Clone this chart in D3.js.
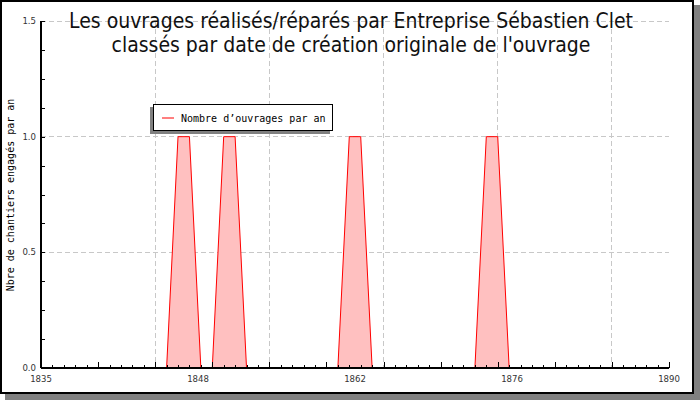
<!DOCTYPE html>
<html>
<head>
<meta charset="utf-8">
<script src="https://cdn.jsdelivr.net/npm/d3@7"></script>
<style>
  body { margin: 0; background: #fff; }
  svg { display: block; }
</style>
</head>
<body>
<svg id="chart" width="700" height="400"></svg>
<script>
// years where the series changes, and number of works for each
const annees = [1835, 1846, 1847, 1848, 1849, 1850, 1851, 1852, 1853, 1861, 1862, 1863, 1864, 1873, 1874, 1875, 1876, 1890];
const nbOuvrages = [0, 0, 1, 1, 0, 0, 1, 1, 0, 0, 1, 1, 0, 0, 1, 1, 0, 0];
const xTickLabels = ["1835", "1848", "1862", "1876", "1890"];
const yTickLabels = ["0.0", "0.5", "1.0", "1.5"];
const titre = ["Les ouvrages réalisés/réparés par Entreprise Sébastien Clet",
               "classés par date de création originale de l'ouvrage"];
const legende = "Nombre d’ouvrages par an";
const yTitre = "Nbre de chantiers engagés par an";

const svg = d3.select("#chart");
const pLeft = 41, pRight = 669, pTop = 21, pBottom = 368;

const x = d3.scaleLinear().domain([1835, 1890]).range([pLeft, pRight]);
const y = d3.scaleLinear().domain([0, 1.5]).range([pBottom, pTop]);

// frame + shadow
svg.append("rect").attr("x", 5).attr("y", 5).attr("width", 695).attr("height", 395).attr("fill", "#808080");
svg.append("rect").attr("x", 1).attr("y", 1).attr("width", 692).attr("height", 392)
    .attr("fill", "#fff").attr("stroke", "#000").attr("stroke-width", 2);

// grid
const grid = svg.append("g").attr("stroke", "#c8c8c8").attr("stroke-dasharray", "5,3").attr("shape-rendering", "crispEdges");
[1845, 1855, 1865, 1875, 1885].forEach(v => {
    grid.append("line").attr("x1", x(v)).attr("x2", x(v)).attr("y1", pTop).attr("y2", pBottom);
});
[0.5, 1.0, 1.5].forEach(v => {
    grid.append("line").attr("x1", pLeft).attr("x2", pRight).attr("y1", y(v)).attr("y2", y(v));
});

// title
svg.append("text")
    .attr("x", 350).attr("text-anchor", "middle")
    .attr("font-family", "DejaVu Sans Condensed, DejaVu Sans").attr("font-size", 21).attr("fill", "#111")
    .selectAll("tspan").data(titre).join("tspan")
    .attr("x", 351).attr("y", (d, i) => 28 + i * 24).text(d => d);

// area + line
const pts = annees.map((a, i) => [a, nbOuvrages[i]]);
svg.append("path").datum(pts)
    .attr("fill", "#ffc0c0")
    .attr("d", d3.area().x(d => x(d[0])).y0(y(0)).y1(d => y(d[1])));
svg.append("path").datum(pts)
    .attr("fill", "none").attr("stroke", "#ff0000").attr("stroke-width", 1)
    .attr("d", d3.line().x(d => x(d[0])).y(d => y(d[1])));

// x axis
const xAxis = d3.axisBottom(x)
    .tickValues(d3.range(1835, 1891, 1))
    .tickSize(-3).tickFormat("");
const gx = svg.append("g").attr("transform", `translate(0,${pBottom})`).call(xAxis);
gx.selectAll(".tick line").attr("y2", d => d % 5 === 0 ? -6 : -3).attr("shape-rendering", "crispEdges");
gx.select(".domain").attr("d", `M${pLeft},0H${pRight}`).attr("stroke-width", 2);
xTickLabels.forEach((t, i) => {
    svg.append("text").attr("x", x(1835 + i * 13.75)).attr("y", 382)
        .attr("text-anchor", "middle").attr("font-family", "DejaVu Sans Condensed, DejaVu Sans")
        .attr("font-size", 9.5).attr("fill", "#333").text(t);
});

// y axis
const yAxis = d3.axisLeft(y)
    .tickValues(d3.range(0, 1.5001, 0.125))
    .tickSize(-4).tickFormat("");
const gy = svg.append("g").attr("transform", `translate(${pLeft},0)`).call(yAxis);
gy.selectAll(".tick line").attr("shape-rendering", "crispEdges");
gy.select(".domain").attr("d", `M0,${pTop}V${pBottom}`).attr("stroke-width", 2);
yTickLabels.forEach(t => {
    svg.append("text").attr("x", 36).attr("y", y(+t) + 3)
        .attr("text-anchor", "end").attr("font-family", "DejaVu Sans Condensed, DejaVu Sans")
        .attr("font-size", 9.5).attr("fill", "#333").text(t);
});

svg.append("text")
    .attr("transform", "translate(14,195) rotate(-90)")
    .attr("text-anchor", "middle").attr("font-family", "DejaVu Sans Mono")
    .attr("font-size", 10).attr("fill", "#000").text(yTitre);

// legend
const lg = svg.append("g");
lg.append("rect").attr("x", 150).attr("y", 107).attr("width", 180).attr("height", 27).attr("fill", "#808080");
lg.append("rect").attr("x", 153.5).attr("y", 104.5).attr("width", 179).attr("height", 26)
    .attr("fill", "#fff").attr("stroke", "#000").attr("stroke-width", 1);
lg.append("line").attr("x1", 162).attr("x2", 174).attr("y1", 118).attr("y2", 118).attr("stroke", "#ff0000");
lg.append("text").attr("x", 181).attr("y", 121.5).attr("font-family", "DejaVu Sans Mono")
    .attr("font-size", 10).attr("fill", "#000").text(legende);
</script>
</body>
</html>
